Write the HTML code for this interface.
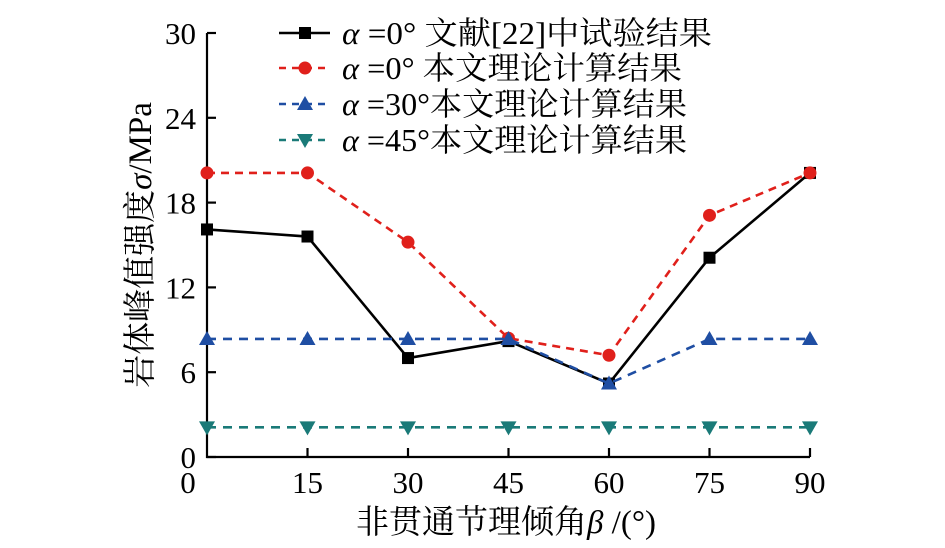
<!DOCTYPE html>
<html><head><meta charset="utf-8"><style>
body{margin:0;background:#fff;}
svg text{font-family:"Liberation Serif","Noto Serif CJK SC",serif;fill:#000;}
</style></head><body>
<svg width="945" height="543" viewBox="0 0 945 543">
<g id="plot"></g>
</svg>
<script>
const categories=[0,15,30,45,60,75,90];
const yTicks=[0,6,12,18,24,30];
const seriesTest=[16.1,15.6,7.0,8.2,5.2,14.1,20.1];
const seriesA0=[20.1,20.1,15.2,8.4,7.2,17.1,20.1];
const seriesA30=[8.35,8.35,8.35,8.35,5.2,8.35,8.35];
const seriesA45=[2.1,2.1,2.1,2.1,2.1,2.1,2.1];
const legendLabels=["=0° 文献[22]中试验结果","=0° 本文理论计算结果","=30°本文理论计算结果","=45°本文理论计算结果"];
const NS="http://www.w3.org/2000/svg";
const g=document.getElementById('plot');
const X0=207,X1=810,Y0=457,Y1=33;
function sx(v){return X0+(v-0)/(90-0)*(X1-X0);}
function sy(v){return Y0-(v-0)/(30-0)*(Y0-Y1);}
function mk(t,a,p){const e=document.createElementNS(NS,t);for(const k in a)e.setAttribute(k,a[k]);(p||g).appendChild(e);return e;}
let e=mk('path',{d:`M${X0},${Y1}V${Y0}H${X1}`,fill:'none',stroke:'#000','stroke-width':2.2});


yTicks.forEach(v=>{
 const t=mk('line',{x1:X0,x2:X0+9,y1:sy(v),y2:sy(v),stroke:'#000','stroke-width':2.2});
 
 
 const l=mk('text',{x:X0-11,y:sy(v)+11,'text-anchor':'end','font-size':31});
 l.textContent=v;
 
 
});
categories.forEach((v,i)=>{
 if(i>0){const t=mk('line',{x1:sx(v),x2:sx(v),y1:Y0,y2:Y0-9,stroke:'#000','stroke-width':2.2});
 
 }
 const l=mk('text',{x:i==0?188:sx(v),y:493,'text-anchor':'middle','font-size':31});
 l.textContent=v;
 
 
});
let yl=mk('text',{transform:'translate(151,245) rotate(-90)','text-anchor':'middle','font-size':33});
yl.innerHTML='岩体峰值强度<tspan font-style="italic">σ</tspan>/MPa';


let xl=mk('text',{x:506,y:533,'text-anchor':'middle','font-size':33});
xl.innerHTML='非贯通节理倾角<tspan font-style="italic">β</tspan> /(°)';


function marker(type,x,y,c,p){
 if(type=='sq')return mk('rect',{x:x-6,y:y-6,width:12,height:12,fill:c},p);
 if(type=='ci')return mk('circle',{cx:x,cy:y,r:6.5,fill:c},p);
 if(type=='up')return mk('path',{d:`M${x},${y-8}L${x+8},${y+6}L${x-8},${y+6}Z`,fill:c},p);
 return mk('path',{d:`M${x},${y+8}L${x+8},${y-6}L${x-8},${y-6}Z`,fill:c},p);
}
const defs=[
 [seriesTest,'#000','','sq','series-test'],
 [seriesA0,'#e0201b','8,6','ci','series-alpha0'],
 [seriesA30,'#1f4ea3','9,7','up','series-alpha30'],
 [seriesA45,'#1a7a78','9,7','dn','series-alpha45']];
defs.forEach(([d,c,da,m,name],k)=>{
 const sg=mk('g',{});
 
 
 const pts=d.map((v,i)=>sx(categories[i])+','+sy(v)).join(' ');
 mk('polyline',{points:pts,fill:'none',stroke:c,'stroke-width':2.6,'stroke-dasharray':da},sg);
 d.forEach((v,i)=>{const p=marker(m,sx(categories[i]),sy(v),c,sg);
  
  });
 const ly=[33,68,104,140][k];
 const lg=mk('g',{});
 
 
 mk('line',{x1:279,x2:330,y1:ly,y2:ly,stroke:c,'stroke-width':2.6,'stroke-dasharray':da?'7,6':''},lg);
 marker(m,305,ly,c,lg);
 const t=mk('text',{x:342,y:ly+11,'font-size':32,textLength:k==0?370:(k==1?340:345),lengthAdjust:'spacingAndGlyphs'},lg);
 t.innerHTML='<tspan font-style="italic">α</tspan> '+legendLabels[k];
});
</script>
</body></html>
